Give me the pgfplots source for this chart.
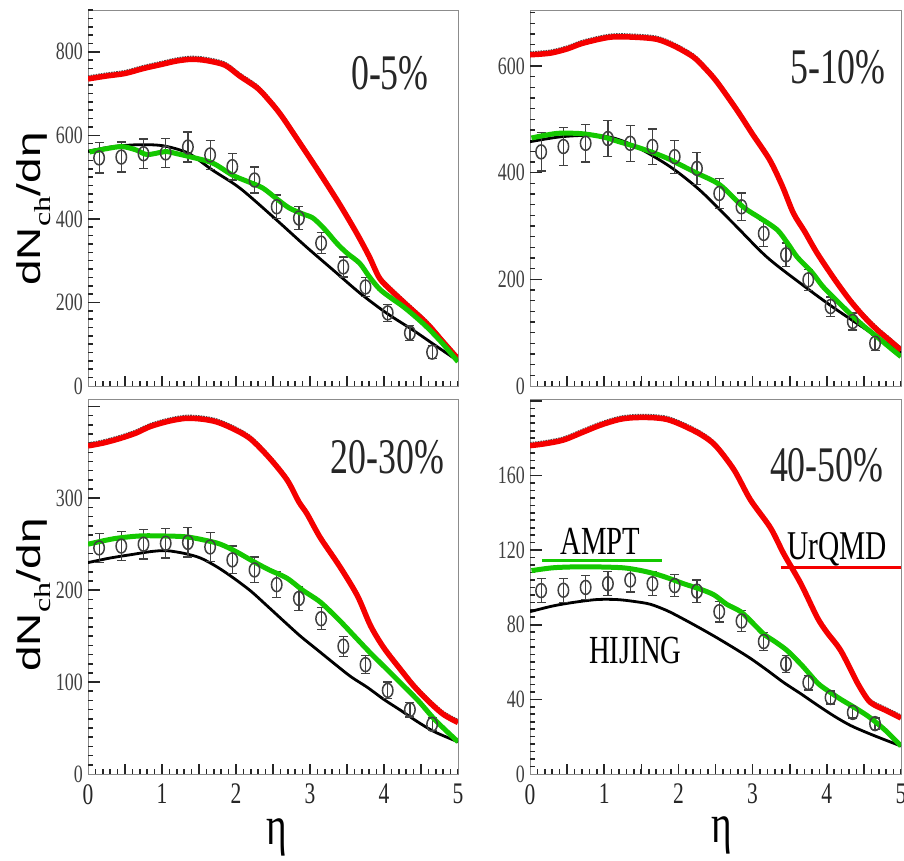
\documentclass[border=0pt]{standalone}
\usepackage{graphicx}
\usepackage{fontspec}
\setmainfont{Liberation Serif}
\newfontfamily\sansf{Liberation Sans}
\usepackage{pgfplots}
\usepackage{pgfplotstable}
\pgfplotsset{compat=1.18}
\newcommand{\sq}[1]{\scalebox{0.72}[1]{#1}}
\definecolor{myred}{RGB}{245,0,0}
\definecolor{mygreen}{RGB}{20,200,0}

\pgfplotstableread{
x y
0 735
0.25 742
0.5 748
0.75 760
1.0 770
1.2 778
1.4 782
1.6 779
1.85 768
2.05 742
2.29 713
2.45 683
2.61 648
2.85 585
3.13 510
3.4 435
3.63 366
3.8 310
3.94 258
4.1 228
4.3 195
4.5 163
4.62 142
4.8 105
5 65
}\redA
\pgfplotstableread{
x y
0.02 560
0.25 568
0.46 573
0.65 565
0.8 554
1.05 561
1.2 556
1.37 549
1.68 534
1.95 505
2.15 490
2.36 474
2.55 448
2.72 426
2.9 412
3.04 402
3.2 375
3.36 342
3.5 318
3.67 294
3.8 262
3.94 232
4.1 210
4.26 190
4.45 162
4.62 134
4.8 100
5 58
}\greenA
\pgfplotstableread{
x y
0 562
0.3 572
0.6 577
0.9 577
1.1 572
1.37 556
1.68 517
2.05 474
2.5 405
2.95 333
3.31 278
3.67 223
4.03 175
4.39 134
4.71 95
5 60
}\blackA
\pgfplotstableread{
x y e
0.15 546 36
0.45 548 36
0.75 556 35
1.05 558 35
1.35 572 36
1.65 553 34
1.95 525 32
2.25 493 31
2.55 429 28
2.85 402 27
3.15 342 25
3.45 285 24
3.75 237 22
4.05 175 20
4.35 127 18
4.65 81 16
}\dataA

\pgfplotstableread{
x y
0 621
0.27 624
0.5 632
0.72 643
1.08 654
1.4 654
1.71 650
1.95 637
2.2 617
2.35 597
2.52 570
2.79 517
3.0 472
3.23 424
3.4 375
3.55 324
3.7 290
3.87 249
4.1 201
4.31 161
4.5 130
4.68 105
4.85 85
5 67
}\redB
\pgfplotstableread{
x y
0.02 465
0.2 470
0.4 474
0.7 473
0.98 467
1.2 458
1.44 448
1.65 438
1.85 427
2.05 413
2.25 399
2.56 377
2.87 336
3.1 315
3.33 293
3.47 268
3.6 242
3.8 213
3.95 186
4.15 158
4.31 136
4.5 112
4.67 93
4.85 72
5 55
}\greenB
\pgfplotstableread{
x y
0 458
0.4 467
0.8 470
1.1 466
1.44 448
1.89 411
2.29 367
2.74 305
3.19 242
3.64 193
4.08 148
4.54 105
5 62
}\blackB
\pgfplotstableread{
x y e
0.15 439 36
0.45 449 36
0.75 455 35
1.05 464 34
1.35 455 34
1.65 449 33
1.95 430 31
2.25 408 30
2.55 361 28
2.85 336 26
3.15 286 24
3.45 246 22
3.75 199 20
4.05 149 18
4.35 121 16
4.65 80 14
}\dataB

\pgfplotstableread{
x y
0 357
0.2 360
0.43 365
0.65 371
0.84 378
1.1 384
1.33 387
1.55 386
1.74 383
1.95 376
2.19 365
2.45 344
2.69 320
2.85 296
2.96 283
3.14 257
3.4 226
3.64 194
3.82 161
4.0 137
4.23 113
4.4 96
4.59 80
4.8 65
5 56
}\redC
\pgfplotstableread{
x y
0 250
0.35 256
0.7 259
1.0 259
1.33 258
1.6 254
1.79 250
2.0 242
2.24 231
2.45 222
2.69 213
2.9 200
3.14 187
3.4 167
3.6 150
3.8 133
4.0 117
4.2 101
4.46 80
4.7 58
5 35
}\greenC
\pgfplotstableread{
x y
0 230
0.3 235
0.61 239
0.85 242
1.06 243
1.3 240
1.52 235
1.75 225
1.97 213
2.2 199
2.42 183
2.65 166
2.87 150
3.1 135
3.33 120
3.55 106
3.78 94
4.0 81
4.23 69
4.45 57
4.68 46
5 35
}\blackC
\pgfplotstableread{
x y e
0.15 246 16
0.45 248 16
0.75 250 16
1.05 251 16
1.35 252 16
1.65 247 16
1.95 233 15
2.25 222 14
2.55 206 14
2.85 191 13
3.15 169 12
3.45 139 11
3.75 119 10
4.05 91 9
4.35 70 8
4.65 54 7
}\dataC

\pgfplotstableread{
x y
0 176
0.2 177
0.45 179
0.7 183
0.95 187
1.2 190
1.4 191
1.65 191
1.85 190
2.05 187
2.3 182
2.5 176
2.75 163
2.97 147
3.24 132
3.42 118
3.65 102
3.87 84
4.0 76
4.19 66
4.41 49
4.55 40
4.64 37
4.8 34
5 30
}\redD
\pgfplotstableread{
x y
0.02 109
0.3 110.5
0.59 111
0.9 111
1.26 110.5
1.5 109
1.71 107
1.9 104.5
2.07 102
2.3 99
2.48 96
2.65 91
2.84 87
3.0 81
3.15 75
3.3 71
3.47 66
3.67 58
3.87 49
4.0 45
4.19 40
4.4 35
4.59 30
4.8 23
5 15
}\greenD
\pgfplotstableread{
x y
0 87
0.3 90
0.59 92
0.9 93.5
1.17 93.5
1.4 92.5
1.62 91
1.85 87.5
2.07 83
2.3 78
2.52 73
2.75 67.5
2.97 62
3.2 55.5
3.42 49
3.65 43
3.87 37
4.1 31
4.32 26
4.55 22
4.77 18.5
5 15
}\blackD
\pgfplotstableread{
x y e
0.15 98.3 6.5
0.45 98.5 6.5
0.75 100 6.5
1.05 102 6.5
1.35 104 6.5
1.65 102 6.5
1.95 101 6
2.25 98 6
2.55 87 5.5
2.85 82 5.5
3.15 71 5
3.45 59 4.5
3.75 49 4
4.05 41 3.5
4.35 33 3
4.65 27 3
}\dataD

\pgfplotsset{
  panel/.style={
    scale only axis,
    xmin=0, xmax=5,
    axis line style={black!45, line width=0.9bp},
    tick align=inside,
    xtick={0,1,2,3,4,5},
    major tick length=0pt, minor tick length=0pt,
    xticklabel style={font=\fontsize{30}{30}\selectfont, inner sep=0pt, yshift=-10bp, text=black!85},
    yticklabel style={font=\fontsize{25}{25}\selectfont, inner sep=0pt, xshift=-5bp, text=black!75},
    xticklabel={\sq{\pgfmathprintnumber{\tick}}},
    yticklabel={\sq{\pgfmathprintnumber{\tick}}},
    /pgf/number format/assume math mode=true,
    /pgf/number format/1000 sep={},
  },
  hij/.style={black, line width=2.8bp, smooth},
  dat/.style={only marks, mark=o, black!75, mark size=7pt,
    mark options={xscale=0.75, line width=1.5bp, solid},
    error bars/.cd, y dir=both, y explicit,
    error bar style={line width=1.2bp, black!75},
    error mark options={rotate=90, mark size=4.5pt, line width=1.2bp, black!75}},
  urq/.style={myred, line width=5.5bp, smooth, tension=0.5},
  urqdot/.style={black!70, densely dotted, line width=1.6bp, smooth, tension=0.5, yshift=2.8bp},
  amp/.style={mygreen, line width=5bp, smooth, tension=0.5},
}
\tikzset{plab/.style={font=\fontsize{50}{50}\selectfont, text=black!85},
  tk/.style={black!85, line width=1.6bp}}
% tick combs (axis decoration)
\newcommand{\xcomb}{%
  \pgfplotsinvokeforeach{0.1,0.2,...,4.95}{\draw[tk] (axis cs:##1,0) -- ++(0,5bp);}%
  \pgfplotsinvokeforeach{0.5,1,...,4.6}{\draw[tk] (axis cs:##1,0) -- ++(0,10bp);}}
\newcommand{\ycomb}[2]{%
  \pgfplotsinvokeforeach{#1}{\draw[tk] (axis cs:0,##1) -- ++(5bp,0);}%
  \pgfplotsinvokeforeach{#2}{\draw[tk] (axis cs:0,##1) -- ++(12bp,0);}}

\begin{document}
\begin{tikzpicture}
\useasboundingbox (0,0) rectangle (904bp,861bp);

\begin{axis}[panel, at={(88bp,475bp)}, anchor=south west, width=370bp, height=376bp,
  ymin=0, ymax=900, ytick={0,200,400,600,800},
  xticklabel={\relax}]
  \xcomb \ycomb{20,40,...,890}{200,400,600,800}
  \addplot[urqdot] table[x=x,y=y] {\redA};
  \addplot[hij] table[x=x,y=y] {\blackA};
  \addplot[dat] table[x=x,y=y,y error=e] {\dataA};
  \addplot[urq] table[x=x,y=y] {\redA};
  \addplot[amp] table[x=x,y=y] {\greenA};
  \node[plab] at (rel axis cs:0.816,0.832) {\sq{0-5\%}};
\end{axis}

\begin{axis}[panel, at={(530bp,475bp)}, anchor=south west, width=371bp, height=376bp,
  ymin=0, ymax=705, ytick={0,200,400,600},
  xticklabel={\relax}]
  \xcomb \ycomb{20,40,...,700}{200,400,600}
  \addplot[urqdot] table[x=x,y=y] {\redB};
  \addplot[hij] table[x=x,y=y] {\blackB};
  \addplot[dat] table[x=x,y=y,y error=e] {\dataB};
  \addplot[urq] table[x=x,y=y] {\redB};
  \addplot[amp] table[x=x,y=y] {\greenB};
  \node[plab] at (rel axis cs:0.83,0.848) {\sq{5-10\%}};
\end{axis}

\begin{axis}[panel, at={(88bp,87bp)}, anchor=south west, width=370bp, height=375bp,
  ymin=0, ymax=408, ytick={0,100,200,300}]
  \xcomb \ycomb{10,20,...,400}{100,200,300,400}
  \addplot[urqdot] table[x=x,y=y] {\redC};
  \addplot[hij] table[x=x,y=y] {\blackC};
  \addplot[dat] table[x=x,y=y,y error=e] {\dataC};
  \addplot[urq] table[x=x,y=y] {\redC};
  \addplot[amp] table[x=x,y=y] {\greenC};
  \node[plab] at (rel axis cs:0.81,0.845) {\sq{20-30\%}};
\end{axis}

\begin{axis}[panel, at={(530bp,87bp)}, anchor=south west, width=371bp, height=375bp,
  ymin=0, ymax=201, ytick={0,40,80,120,160}]
  \xcomb \ycomb{4,8,...,200}{40,80,120,160,200}
  \addplot[urqdot] table[x=x,y=y] {\redD};
  \addplot[hij] table[x=x,y=y] {\blackD};
  \addplot[dat] table[x=x,y=y,y error=e] {\dataD};
  \addplot[urq] table[x=x,y=y] {\redD};
  \addplot[amp] table[x=x,y=y] {\greenD};
  \addplot[mygreen, line width=3bp] coordinates {(0.16,114.5) (1.78,114.5)};
  \addplot[myred, line width=3bp] coordinates {(3.38,110.6) (5,110.6)};
  \node[font=\fontsize{40}{40}\selectfont, anchor=base] at (axis cs:0.95,117.8) {\sq{AMPT}};
  \node[font=\fontsize{41}{41}\selectfont, anchor=base] at (axis cs:4.14,115) {\sq{UrQMD}};
  \node[font=\fontsize{40}{40}\selectfont, anchor=base] at (axis cs:1.42,59.3) {\sq{HIJING}};
  \node[plab] at (rel axis cs:0.80,0.824) {\sq{40-50\%}};
\end{axis}

\node[rotate=90] at (34bp,652bp) {\scalebox{1}[0.72]{\sansf\fontsize{46}{46}\selectfont dN\textsubscript{\rmfamily ch}/dη}};
\node[rotate=90] at (34bp,266bp) {\scalebox{1}[0.72]{\sansf\fontsize{46}{46}\selectfont dN\textsubscript{\rmfamily ch}/dη}};
\node at (277bp,24bp) {\scalebox{0.72}[1]{\fontsize{55}{55}\selectfont η}};
\node at (722bp,26bp) {\scalebox{0.72}[1]{\fontsize{55}{55}\selectfont η}};
\end{tikzpicture}
\end{document}
